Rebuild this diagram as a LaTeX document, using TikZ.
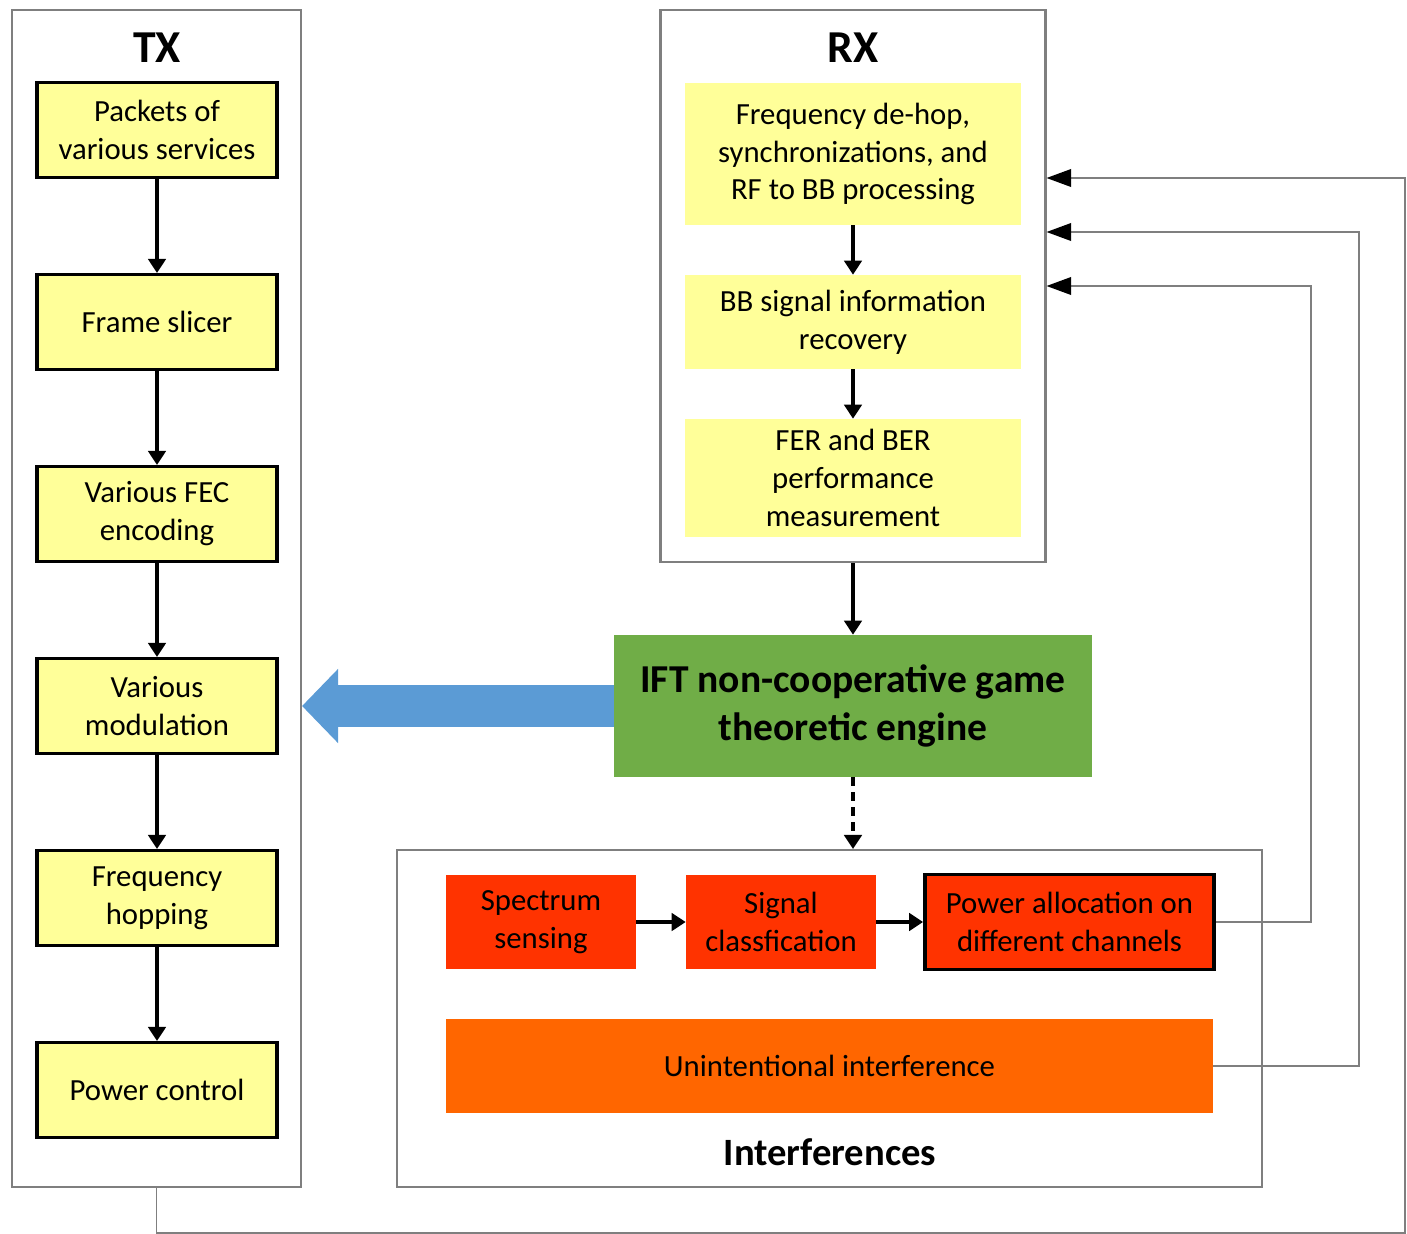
\documentclass[tikz,border=0pt]{standalone}
\usepackage{fontspec}
\setmainfont{Carlito}
\usetikzlibrary{arrows.meta,calc}
\definecolor{boxyellow}{HTML}{FFFF99}
\definecolor{enggreen}{HTML}{70AD47}
\definecolor{sigred}{HTML}{FF3300}
\definecolor{unorange}{HTML}{FF6600}
\definecolor{bigblue}{HTML}{5B9BD5}
\definecolor{panelgray}{HTML}{7F7F7F}
\tikzset{
  txt/.style={font=\fontsize{17.5}{21.6}\selectfont,align=center,inner sep=0pt},
  panel/.style={draw=panelgray,line width=1.2pt,inner sep=0pt},
  txbox/.style={txt,draw=black,line width=1.8pt,fill=boxyellow,minimum width=4.8cm,minimum height=1.9cm},
  rxbox/.style={txt,fill=boxyellow,minimum width=6.72cm},
  redbox/.style={txt,fill=sigred,minimum height=1.88cm},
  flow/.style={line width=1.8pt,-{Triangle[length=8pt,width=10pt]}},
  fb/.style={draw=panelgray,line width=1.1pt,-{Triangle[length=14pt,width=10pt,color=black]}},
  heading/.style={font=\fontsize{26}{30}\selectfont\bfseries,inner sep=0pt}
}
\begin{document}
\begin{tikzpicture}[x=0.02cm,y=-0.02cm]
\useasboundingbox (0,0) rectangle (1407,1234);
% panels
\node[panel,minimum width=5.78cm,minimum height=23.54cm] (tx) at (156.5,598.5) {};
\node[panel,minimum width=7.7cm,minimum height=11.04cm] (rx) at (853,286) {};
\node[panel,minimum width=17.3cm,minimum height=6.74cm] (intf) at (829.5,1018.5) {};
\node[heading] (txlabel) at (157,48) {TX};
\node[heading] (rxlabel) at (853,48) {RX};
% transmitter chain
\foreach \i/\t in {1/{Packets of\\various services},2/{Frame slicer},3/{Various FEC\\encoding},
  4/{Various\\modulation},5/{Frequency\\hopping},6/{Power control}}{
  \node[txbox] (tx\i) at (157,{130+192*(\i-1)}) {\t};
}
\foreach \i [count=\j from 2] in {1,...,5}
  \draw[flow] (tx\i.south) -- (tx\j.north);
% receiver chain
\node[rxbox,minimum height=2.84cm] (rx1) at (853,154) {Frequency de-hop,\\synchronizations, and\\RF to BB processing};
\node[rxbox,minimum height=1.88cm] (rx2) at (853,322) {BB signal information\\recovery};
\node[rxbox,minimum height=2.36cm] (rx3) at (853,478) {FER and BER\\performance\\measurement};
\draw[flow] (rx1) -- (rx2);
\draw[flow] (rx2) -- (rx3);
% engine
\node[txt,fill=enggreen,minimum width=9.56cm,minimum height=2.84cm,
  font=\fontsize{22.5}{27.2}\selectfont\bfseries] (engine) at (853,706) {IFT non-cooperative game\\theoretic engine};
\draw[flow] (rx.south) -- (engine.north);
\draw[bigblue,line width=0.84cm,-{Triangle[length=0.72cm,width=1.44cm]}] (engine.west) -- (tx.east |- engine.west);
\draw[flow,dash pattern=on 5pt off 3.5pt] (engine.south) -- (engine.south |- intf.north);
% interferences
\node[redbox,minimum width=3.8cm] (sense) at (541,922) {Spectrum\\sensing};
\node[redbox,minimum width=3.8cm] (classify) at (781,922) {Signal\\classfication};
\node[redbox,draw=black,line width=2.2pt,minimum width=5.78cm,minimum height=1.9cm] (power) at (1069.5,922) {Power allocation on\\different channels};
\node[txt,fill=unorange,minimum width=15.34cm,minimum height=1.88cm] (unint) at (829.5,1066) {Unintentional interference};
\node[heading,font=\fontsize{22}{26}\selectfont\bfseries] (intflabel) at (830,1152) {Interferences};
\draw[flow] (sense) -- (classify);
\draw[flow] (classify) -- (power);
% feedback to RX
\draw[fb] (power.east) -- ++(95,0) |- (rx.east);
\draw[fb] (unint.east) -- ++(146,0) |- ($(rx.east)+(0,-54)$);
\draw[fb] (tx.south) -- ++(0,45) -- ++(1248.5,0) |- ($(rx.east)+(0,-108)$);
\end{tikzpicture}
\end{document}
